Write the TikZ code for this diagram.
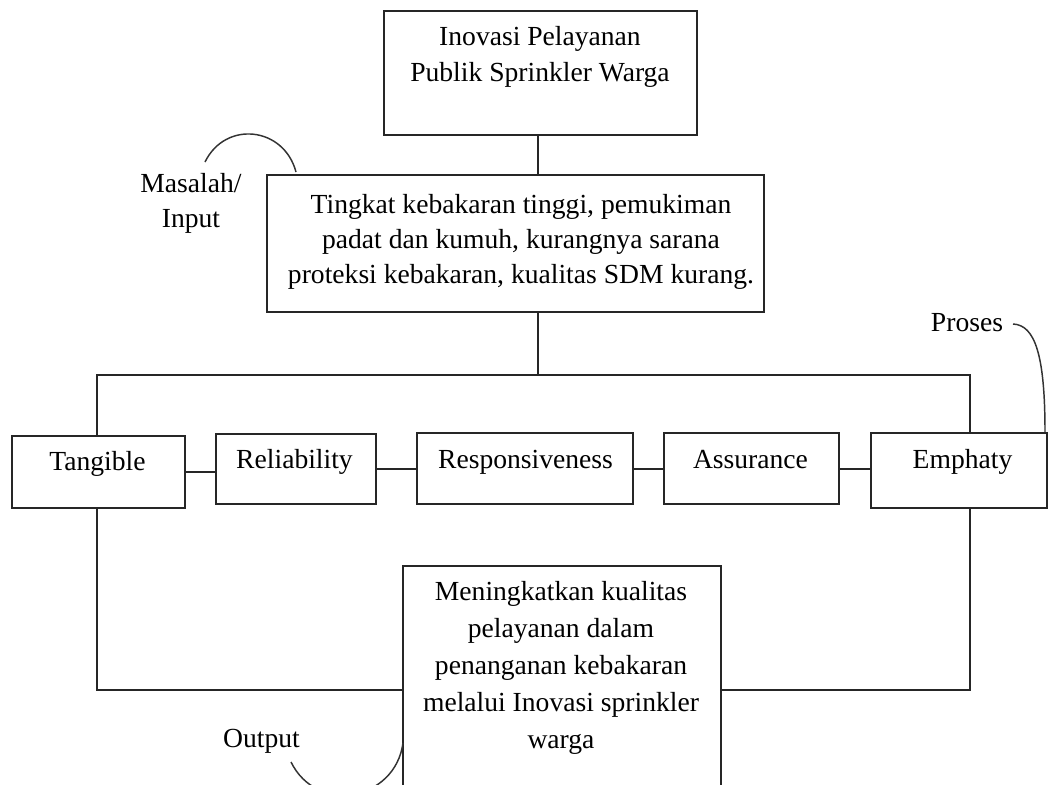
\documentclass[tikz,border=0pt]{standalone}
\usepackage{fontspec}
\setmainfont{Liberation Serif}

\begin{document}
\begin{tikzpicture}[x=0.75pt,y=0.75pt,yscale=-1,xscale=1,
  box/.style={draw=black!85, line width=1.3pt, inner sep=0pt},
  txt/.style={inner sep=0pt, align=center, font=\fontsize{20.7}{26.25}\selectfont},
  lbl/.style={inner sep=0pt, anchor=base, font=\fontsize{20.7}{26.25}\selectfont},
  conn/.style={draw=black!85, line width=1.3pt},
  curv/.style={draw=black!80, line width=1.1pt}]
%set diagram left start at 0, and has height of 785
\useasboundingbox (0,0) rectangle (1053,785);

%Shape: Rectangles
\node [box, minimum width=234.75pt, minimum height=93pt] (top) at (540.5,73) {};
\node [box, minimum width=372.75pt, minimum height=102.75pt] (prob) at (515.5,243.5) {};
\node [box, minimum width=129.75pt, minimum height=54pt] (tang) at (98.5,472) {};
\node [box, minimum width=120pt, minimum height=52.5pt] (rel) at (296,469) {};
\node [box, minimum width=162pt, minimum height=53.25pt] (resp) at (525,468.5) {};
\node [box, minimum width=131.25pt, minimum height=53.25pt] (assu) at (751.5,468.5) {};
\node [box, minimum width=132pt, minimum height=56.25pt] (emph) at (959,470.5) {};
\node [box, minimum width=238.5pt, minimum height=175.5pt] (out) at (562,683) {};

%Straight Lines
\coordinate (mid) at (538,375);
\coordinate (barL) at (97,375);
\coordinate (barR) at (970,375);
\coordinate (botL) at (97,690);
\coordinate (botR) at (970,690);
\draw [conn] (top.south -| mid) -- (prob.north -| mid);
\draw [conn] (prob.south -| mid) -- (mid);
\draw [conn] (tang.north -| barL) -- (barL) -- (barR) -- (emph.north -| barR);
\draw [conn] (tang.east) -- (tang.east -| rel.west);
\draw [conn] (rel.east) -- (rel.east -| resp.west);
\draw [conn] ([yshift=0.4pt]resp.east) -- ([yshift=0.4pt]resp.east -| assu.west);
\draw [conn] ([yshift=0.4pt]assu.east) -- ([yshift=0.4pt]assu.east -| emph.west);
\draw [conn] (tang.south -| botL) -- (botL) -- (botL -| out.west);
\draw [conn] (emph.south -| botR) -- (botR) -- (botR -| out.east);

%Curve Lines
\draw [curv] (205,162) .. controls (225.5,120) and (284,126.7) .. (296,172);
\draw [curv] (1013,324) .. controls (1035,325) and (1045,355) .. (1045,432);
\draw [curv] (291,762) .. controls (317,815) and (395,801) .. (403,743);

% Text Node
\node [txt, font=\fontsize{20.7}{27}\selectfont] (topText) at (540,57) {Inovasi Pelayanan\\Publik Sprinkler Warga};
% Text Node
\node [txt] (probText) at (521,242) {Tingkat kebakaran tinggi, pemukiman\\padat dan kumuh, kurangnya sarana\\proteksi kebakaran, kualitas SDM kurang.};
% Text Node
\node [lbl] (tangText) at (97.5,470) {Tangible};
\node [lbl] (relText) at (294.5,468) {Reliability};
\node [lbl] (respText) at (525.5,468) {Responsiveness};
\node [lbl] (assuText) at (750.5,468) {Assurance};
\node [lbl] (emphText) at (962.5,468) {Emphaty};
% Text Node
\node [txt, font=\fontsize{20.7}{27.75}\selectfont] (outText) at (561,668) {Meningkatkan kualitas\\pelayanan dalam\\penanganan kebakaran\\melalui Inovasi sprinkler\\warga};
% Text Node
\node [txt] (masalah) at (191,203) {Masalah/\\Input};
\node [lbl] (proses) at (967,331) {Proses};
\node [lbl] (output) at (261.5,747) {Output};

\end{tikzpicture}
\end{document}
